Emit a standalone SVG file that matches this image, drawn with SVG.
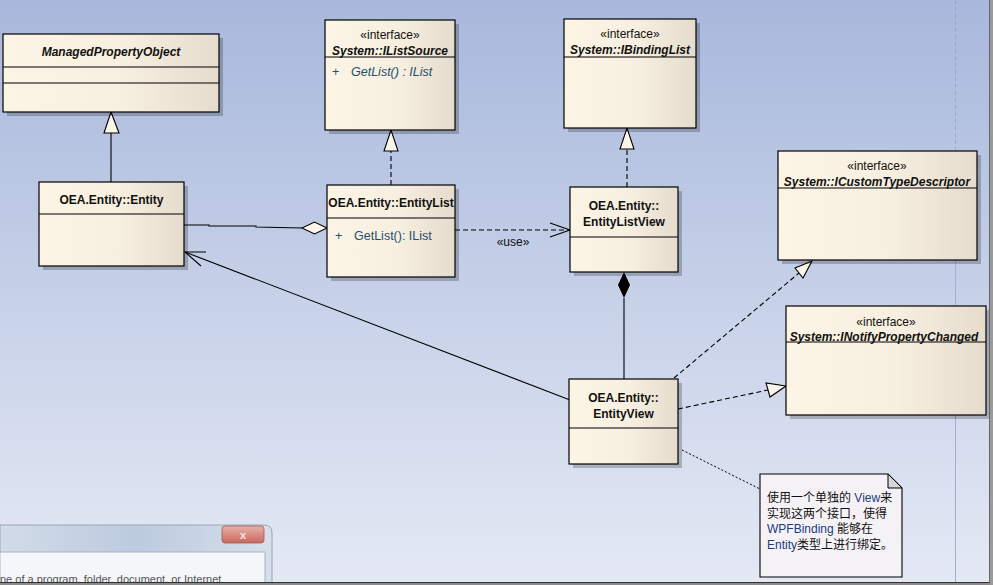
<svg xmlns="http://www.w3.org/2000/svg" width="993" height="585" viewBox="0 0 993 585">
<defs>
<linearGradient id="bg" x1="0" y1="0" x2="0" y2="1">
<stop offset="0" stop-color="#a8b8dc"/>
<stop offset="1" stop-color="#e4e9f4"/>
</linearGradient>
<linearGradient id="ng" x1="0" y1="0" x2="1" y2="0">
<stop offset="0" stop-color="#fcf4e4"/>
<stop offset="0.55" stop-color="#f7efdf"/>
<stop offset="1" stop-color="#e5dccd"/>
</linearGradient>
<linearGradient id="tb" x1="0" y1="0" x2="1" y2="0">
<stop offset="0" stop-color="#d2dbe8"/>
<stop offset="0.5" stop-color="#bccbdf"/>
<stop offset="1" stop-color="#d6dfea"/>
</linearGradient>
<linearGradient id="cb" x1="0" y1="0" x2="0" y2="1">
<stop offset="0" stop-color="#e8b0a8"/>
<stop offset="1" stop-color="#c8685e"/>
</linearGradient>
</defs>
<style>
.box{fill:url(#ng);stroke:#000;stroke-width:1.2}
.sh{fill:#000;opacity:0.22}
.sep{stroke:#000;stroke-width:1.2}
.t{font-family:"Liberation Sans",Arial,sans-serif;font-size:12px;font-weight:bold;fill:#111;text-anchor:middle}
.ti{font-family:"Liberation Sans",Arial,sans-serif;font-size:12px;font-weight:bold;font-style:italic;fill:#111;text-anchor:middle}
.st{font-family:"Liberation Sans",Arial,sans-serif;font-size:12px;fill:#111;text-anchor:middle}
.m{font-family:"Liberation Sans",Arial,sans-serif;font-size:12.5px;fill:#1f4f6f}
.ln{stroke:#000;stroke-width:1.1;fill:none}
.da{stroke:#000;stroke-width:1.1;fill:none;stroke-dasharray:5,3}
.dt{stroke:#000;stroke-width:1;fill:none;stroke-dasharray:2,2}
.hol{fill:#fcf6ea;stroke:#000;stroke-width:1.1}
.note{font-family:"Liberation Sans","Noto Sans CJK SC",sans-serif;font-size:12px;fill:#111}
</style>
<rect x="0" y="0" width="993" height="585" fill="url(#bg)"/>
<line x1="955.5" y1="0" x2="955.5" y2="150" stroke="#98a4cc" stroke-width="1" stroke-dasharray="4,3"/>
<line x1="955.5" y1="150" x2="955.5" y2="582" stroke="#a3acd2" stroke-width="1"/>

<g id="connectors">
<line class="ln" x1="111" y1="182" x2="111" y2="133"/>
<polygon class="hol" points="111,112 104,133 119,133"/>
<line class="da" x1="391" y1="185" x2="391" y2="151"/>
<polygon class="hol" points="391,130 384,151 398,151"/>
<line class="da" x1="627" y1="187" x2="627" y2="149"/>
<polygon class="hol" points="627,128 620,149 634,149"/>
<polyline class="ln" points="184,225 209,225 209,226 256,226 256,227 302,228"/>
<polygon class="hol" points="327,228 314.5,222 302,228 314.5,234"/>
<line class="da" x1="455" y1="230" x2="570" y2="230"/>
<polyline class="ln" points="550,223 570,230 550,237"/>
<text class="st" x="513" y="246">«use»</text>
<line class="ln" x1="624" y1="298" x2="624" y2="379"/>
<polygon points="624,272 618,285 624,298 630,285" fill="#000"/>
<line class="ln" x1="570" y1="400" x2="185" y2="252"/>
<polyline class="ln" points="206,252 185,252 201,266"/>
<line class="da" x1="674" y1="378" x2="799" y2="273"/>
<polygon class="hol" points="812,261 795,268 803,278"/>
<line class="da" x1="678" y1="409" x2="768" y2="390"/>
<polygon class="hol" points="786,386 766,383 770,397"/>
<line class="dt" x1="682" y1="450" x2="760" y2="489"/>
</g>

<g id="ManagedPropertyObject">
<rect class="sh" x="7" y="38" width="216" height="78"/>
<rect class="box" x="3" y="34" width="216" height="78"/>
<line class="sep" x1="3" y1="67" x2="219" y2="67"/>
<line class="sep" x1="3" y1="83" x2="219" y2="83"/>
<text class="ti" x="111" y="56">ManagedPropertyObject</text>
</g>

<g id="Entity">
<rect class="sh" x="43" y="186" width="145" height="84"/>
<rect class="box" x="39" y="182" width="145" height="84"/>
<line class="sep" x1="39" y1="214" x2="184" y2="214"/>
<text class="t" x="111.5" y="204">OEA.Entity::Entity</text>
</g>

<g id="IListSource">
<rect class="sh" x="329" y="24" width="130" height="110"/>
<rect class="box" x="325" y="20" width="130" height="110"/>
<line class="sep" x1="325" y1="57" x2="455" y2="57"/>
<text class="st" x="390" y="39">«interface»</text>
<text class="ti" x="390" y="55">System::IListSource</text>
<text class="m" x="332" y="76">+</text>
<text class="m" x="351" y="76" font-style="italic">GetList() : IList</text>
</g>

<g id="EntityList">
<rect class="sh" x="331" y="189" width="128" height="92"/>
<rect class="box" x="327" y="185" width="128" height="92"/>
<line class="sep" x1="327" y1="218" x2="455" y2="218"/>
<text class="t" x="391" y="207">OEA.Entity::EntityList</text>
<text class="m" x="335" y="240">+</text>
<text class="m" x="354" y="240">GetList(): IList</text>
</g>

<g id="IBindingList">
<rect class="sh" x="568" y="23" width="132" height="109"/>
<rect class="box" x="564" y="19" width="132" height="109"/>
<line class="sep" x1="564" y1="57" x2="696" y2="57"/>
<text class="st" x="630" y="38">«interface»</text>
<text class="ti" x="630" y="54">System::IBindingList</text>
</g>

<g id="EntityListView">
<rect class="sh" x="574" y="191" width="108" height="85"/>
<rect class="box" x="570" y="187" width="108" height="85"/>
<line class="sep" x1="570" y1="237" x2="678" y2="237"/>
<text class="t" x="624" y="210">OEA.Entity::</text>
<text class="t" x="624" y="226">EntityListView</text>
</g>

<g id="EntityView">
<rect class="sh" x="573" y="383" width="109" height="85"/>
<rect class="box" x="569" y="379" width="109" height="85"/>
<line class="sep" x1="569" y1="428" x2="678" y2="428"/>
<text class="t" x="623.5" y="402">OEA.Entity::</text>
<text class="t" x="623.5" y="418">EntityView</text>
</g>

<g id="ICustomTypeDescriptor">
<rect class="sh" x="782" y="155" width="199" height="109"/>
<rect class="box" x="778" y="151" width="199" height="109"/>
<line class="sep" x1="778" y1="188" x2="977" y2="188"/>
<text class="st" x="877" y="170">«interface»</text>
<text class="ti" x="877" y="186">System::ICustomTypeDescriptor</text>
</g>

<g id="INotifyPropertyChanged">
<rect class="sh" x="790" y="310" width="200" height="109"/>
<rect class="box" x="786" y="306" width="200" height="109"/>
<line class="sep" x1="786" y1="342" x2="986" y2="342"/>
<text class="st" x="886" y="326">«interface»</text>
<text class="ti" x="884" y="341">System::INotifyPropertyChanged</text>
</g>

<g id="note">
<polygon points="760,474 888,474 902,488 902,577 760,577" fill="#f5f2f6" stroke="#000" stroke-width="1.1"/>
<polygon points="888,474 888,488 902,488" fill="#d6d6d8" stroke="#000" stroke-width="1"/>
<text class="note" x="767" y="502">使用一个单独的 <tspan fill="#1f3a7a">View</tspan>来</text>
<text class="note" x="767" y="518">实现这两个接口，使得</text>
<text class="note" x="767" y="533"><tspan fill="#1f3a7a">WPFBinding</tspan> 能够在</text>
<text class="note" x="767" y="549"><tspan fill="#1f3a7a">Entity</tspan>类型上进行绑定。</text>
</g>

<g id="window">
<path d="M0,525 L264,525 Q272,525 272,533 L272,585 L0,585 Z" fill="url(#tb)" stroke="#9aa6b6" stroke-width="1"/>
<rect x="0" y="552" width="265" height="33" fill="#f4f6fa" stroke="#aab4c2" stroke-width="1"/>
<rect x="222" y="526" width="42" height="17" rx="3" fill="url(#cb)" stroke="#a65a52" stroke-width="0.8"/>
<text x="243" y="539" font-family="'Liberation Sans',Arial,sans-serif" font-size="11" font-weight="bold" fill="#f4e6e4" text-anchor="middle">x</text>
<text x="0" y="583" font-family="'Liberation Sans',Arial,sans-serif" font-size="11" fill="#555">ne of a program, folder, document, or Internet</text>
</g>

<rect x="0" y="582" width="993" height="3" fill="#8c8c8c"/>
<line x1="0" y1="582.5" x2="993" y2="582.5" stroke="#333" stroke-width="1"/>
<rect x="990" y="0" width="3" height="585" fill="#9a9a9a"/>
<line x1="989.5" y1="0" x2="989.5" y2="583" stroke="#666" stroke-width="1"/>
</svg>
